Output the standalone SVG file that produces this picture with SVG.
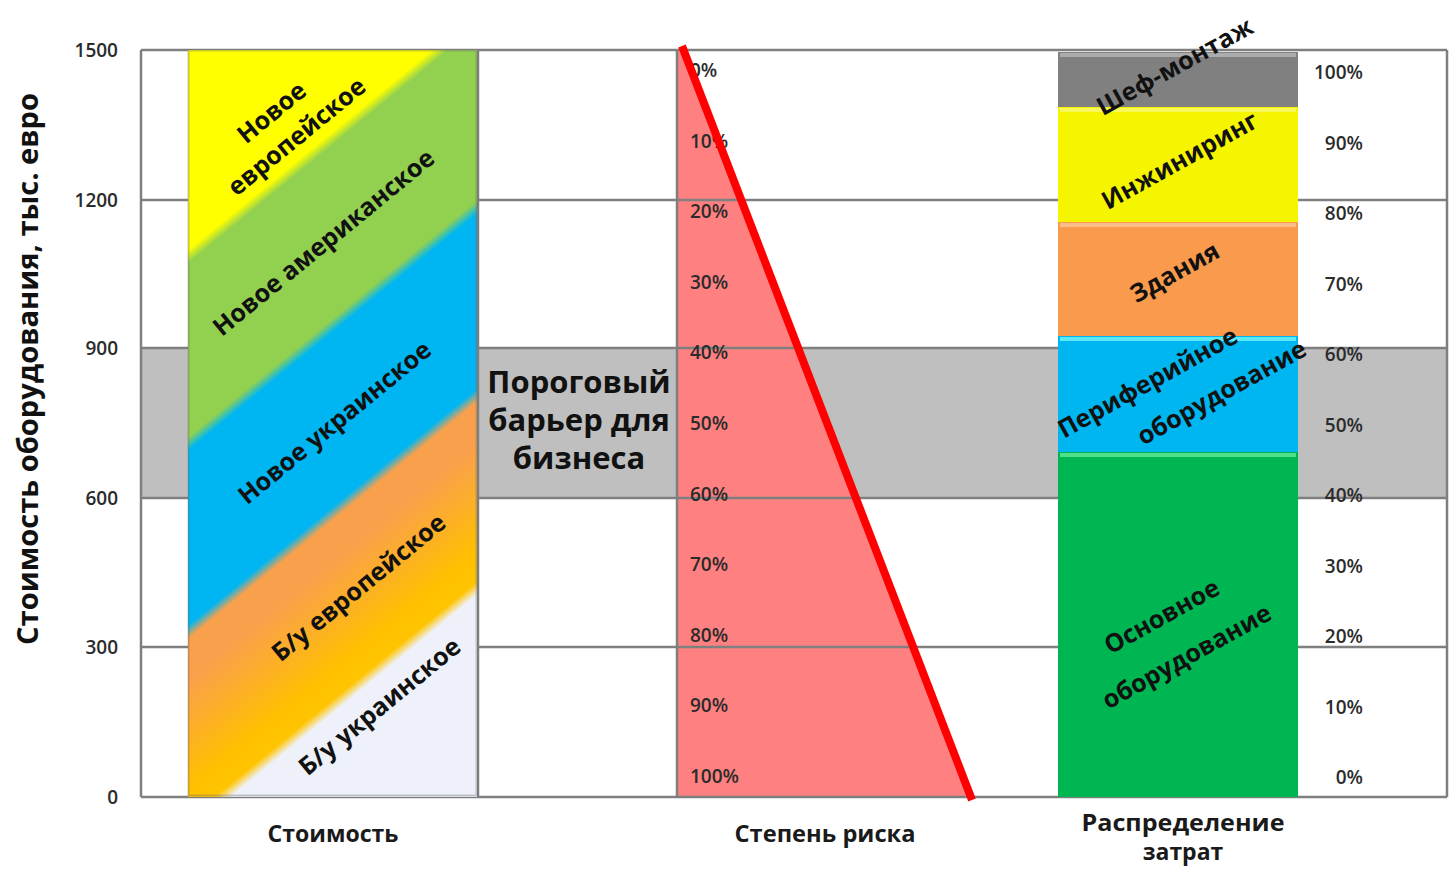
<svg xmlns="http://www.w3.org/2000/svg" width="1455" height="870" viewBox="0 0 1455 870">
  <style>
    text { font-family: "Open Sans", "Liberation Sans", sans-serif; }
    .b { font-weight: 700; fill: #111; }
    .lab { font-size: 25px; font-weight: 700; fill: #111; }
    .pct { font-size: 19px; font-weight: 600; fill: #2b2b2b; }
    .tick { font-size: 19px; font-weight: 600; fill: #2b2b2b; text-anchor: end; }
    .cap { font-size: 23px; font-weight: 700; fill: #1a1a1a; text-anchor: middle; }
    .grid { stroke: #7f7f7f; stroke-width: 2.5; fill: none; }
    .hl { fill: #ffffff; opacity: 0.35; }
  </style>
  <defs>
    <linearGradient id="costGrad" gradientUnits="userSpaceOnUse" x1="188" y1="50" x2="671" y2="639">
      <stop offset="0" stop-color="#ffff00"/>
      <stop offset="0.203" stop-color="#ffff00"/>
      <stop offset="0.217" stop-color="#92d050"/>
      <stop offset="0.393" stop-color="#92d050"/>
      <stop offset="0.407" stop-color="#00b6f2"/>
      <stop offset="0.584" stop-color="#00b6f2"/>
      <stop offset="0.598" stop-color="#f9a04c"/>
      <stop offset="0.640" stop-color="#f9a04c"/>
      <stop offset="0.751" stop-color="#ffc000"/>
      <stop offset="0.780" stop-color="#ffc400"/>
      <stop offset="0.794" stop-color="#eef1f9"/>
      <stop offset="1" stop-color="#eef1f9"/>
    </linearGradient>
  </defs>

  <rect x="0" y="0" width="1455" height="870" fill="#ffffff"/>

  <g id="threshold-band">
    <rect x="141" y="348" width="1306" height="150" fill="#bfbfbf"/>
  </g>

  <g id="risk-column">
    <polygon points="677,50 683,50 971,797 677,797" fill="#ff8080"/>
  </g>

  <g id="grid">
    <line class="grid" x1="141" y1="50" x2="1447" y2="50"/>
    <line class="grid" x1="141" y1="200" x2="1447" y2="200"/>
    <line class="grid" x1="141" y1="348" x2="1447" y2="348"/>
    <line class="grid" x1="141" y1="498" x2="1447" y2="498"/>
    <line class="grid" x1="141" y1="647" x2="1447" y2="647"/>
    <line class="grid" x1="141" y1="797" x2="1447" y2="797" stroke-width="3.5"/>
    <line class="grid" x1="141" y1="50" x2="141" y2="797"/>
    <line class="grid" x1="478" y1="50" x2="478" y2="797"/>
    <line class="grid" x1="677" y1="50" x2="677" y2="797"/>
    <line class="grid" x1="1447" y1="50" x2="1447" y2="797"/>
  </g>

  <g id="cost-column">
    <rect x="188" y="50" width="289" height="747" fill="url(#costGrad)"/>
    <rect x="188.5" y="50.5" width="288" height="745" fill="none" stroke="#6b6b6b" stroke-opacity="0.35" stroke-width="2"/>
  </g>

  <g id="seg-shef">
    <rect x="1058" y="52" width="240" height="55" fill="#808080"/>
    <rect class="hl" x="1060" y="53" width="236" height="4"/>
  </g>
  <g id="seg-engineering">
    <rect x="1058" y="107" width="240" height="115" fill="#f5f500"/>
    <rect class="hl" x="1060" y="108" width="236" height="4"/>
  </g>
  <g id="seg-buildings">
    <rect x="1058" y="222" width="240" height="114" fill="#f99a4c"/>
    <rect class="hl" x="1060" y="223" width="236" height="4"/>
  </g>
  <g id="seg-peripheral">
    <rect x="1058" y="336" width="240" height="116" fill="#00b6f0"/>
    <rect x="1060" y="337" width="236" height="4" fill="#5fe8f5"/>
  </g>
  <g id="seg-main">
    <rect x="1058" y="452" width="240" height="345" fill="#00b653"/>
    <rect x="1060" y="453" width="236" height="4" fill="#4fe08a"/>
  </g>

  <g id="y-axis">
    <text class="tick" x="118" y="57">1500</text>
    <text class="tick" x="118" y="207">1200</text>
    <text class="tick" x="118" y="355">900</text>
    <text class="tick" x="118" y="505">600</text>
    <text class="tick" x="118" y="654">300</text>
    <text class="tick" x="118" y="804">0</text>
    <text class="b" font-size="28" text-anchor="middle" transform="translate(38,369) rotate(-90)" textLength="552" lengthAdjust="spacingAndGlyphs">Стоимость оборудования, тыс. евро</text>
  </g>

  <g id="cost-labels">
    <text class="lab" text-anchor="middle" transform="translate(272,113) rotate(-39.35)" y="8">Новое</text>
    <text class="lab" text-anchor="middle" transform="translate(297,137) rotate(-39.35)" y="8">европейское</text>
    <text class="lab" text-anchor="middle" transform="translate(324,243) rotate(-39.35)" y="8">Новое американское</text>
    <text class="lab" text-anchor="middle" transform="translate(335,423) rotate(-39.35)" y="8">Новое украинское</text>
    <text class="lab" text-anchor="middle" transform="translate(359,588) rotate(-39.35)" y="8">Б/у европейское</text>
    <text class="lab" text-anchor="middle" transform="translate(380,707) rotate(-39.35)" y="8">Б/у украинское</text>
  </g>

  <g id="threshold-label">
    <text class="b" font-size="31" text-anchor="middle" x="579" y="393">Пороговый</text>
    <text class="b" font-size="31" text-anchor="middle" x="579" y="431">барьер для</text>
    <text class="b" font-size="31" text-anchor="middle" x="579" y="469">бизнеса</text>
  </g>

  <g id="risk-labels">
    <text class="pct" x="690" y="77">0%</text>
    <text class="pct" x="690" y="148">10%</text>
    <text class="pct" x="690" y="218">20%</text>
    <text class="pct" x="690" y="289">30%</text>
    <text class="pct" x="690" y="359">40%</text>
    <text class="pct" x="690" y="430">50%</text>
    <text class="pct" x="690" y="501">60%</text>
    <text class="pct" x="690" y="571">70%</text>
    <text class="pct" x="690" y="642">80%</text>
    <text class="pct" x="690" y="712">90%</text>
    <text class="pct" x="690" y="783">100%</text>
  </g>

  <g id="connectors">
    <line x1="682" y1="46" x2="972" y2="800" stroke="#ff0000" stroke-width="8"/>
  </g>

  <g id="dist-percent" text-anchor="end">
    <text class="pct" x="1363" y="79">100%</text>
    <text class="pct" x="1363" y="150">90%</text>
    <text class="pct" x="1363" y="220">80%</text>
    <text class="pct" x="1363" y="291">70%</text>
    <text class="pct" x="1363" y="361">60%</text>
    <text class="pct" x="1363" y="432">50%</text>
    <text class="pct" x="1363" y="502">40%</text>
    <text class="pct" x="1363" y="573">30%</text>
    <text class="pct" x="1363" y="643">20%</text>
    <text class="pct" x="1363" y="714">10%</text>
    <text class="pct" x="1363" y="784">0%</text>
  </g>

  <g id="dist-labels">
    <text class="lab" font-size="26" text-anchor="middle" transform="translate(1175,67) rotate(-29)" y="8">Шеф-монтаж</text>
    <text class="lab" font-size="26" text-anchor="middle" transform="translate(1180,161) rotate(-29)" y="8">Инжиниринг</text>
    <text class="lab" text-anchor="middle" transform="translate(1175,273) rotate(-29)" y="8">Здания</text>
    <text class="lab" text-anchor="middle" transform="translate(1148,383) rotate(-29)" y="8">Периферийное</text>
    <text class="lab" text-anchor="middle" transform="translate(1222,393) rotate(-29)" y="8">оборудование</text>
    <text class="lab" text-anchor="middle" transform="translate(1162,617) rotate(-29)" y="8">Основное</text>
    <text class="lab" text-anchor="middle" transform="translate(1187,657) rotate(-29)" y="8">оборудование</text>
  </g>

  <g id="captions">
    <text class="cap" x="333" y="842" textLength="131" lengthAdjust="spacingAndGlyphs">Стоимость</text>
    <text class="cap" x="825" y="842" textLength="181" lengthAdjust="spacingAndGlyphs">Степень риска</text>
    <text class="cap" x="1183" y="831" textLength="203" lengthAdjust="spacingAndGlyphs">Распределение</text>
    <text class="cap" x="1183" y="860">затрат</text>
  </g>
</svg>
